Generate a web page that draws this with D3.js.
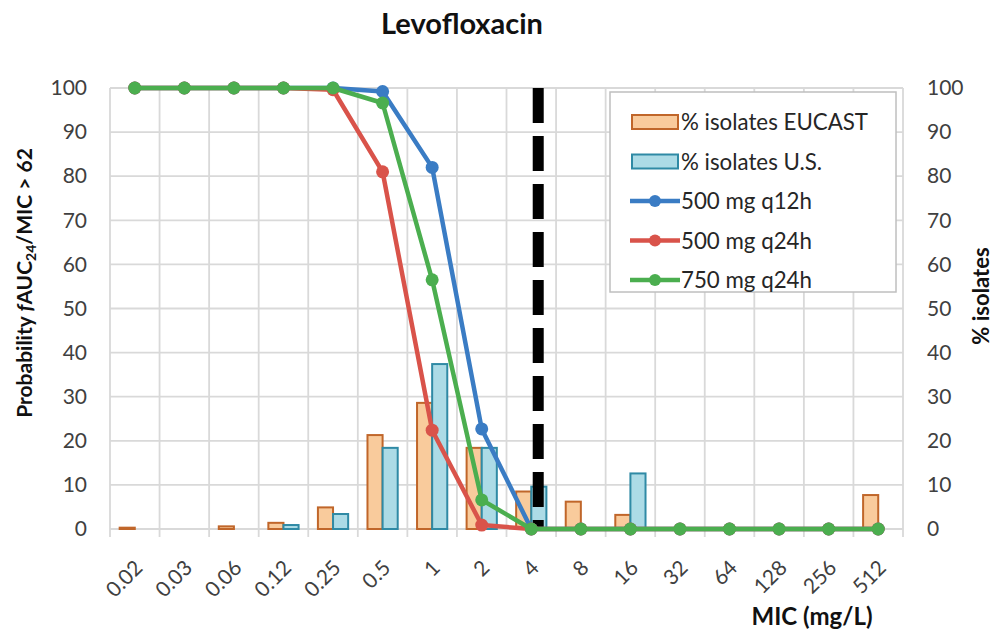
<!DOCTYPE html>
<html>
<head>
<meta charset="utf-8">
<script src="https://cdn.jsdelivr.net/npm/d3@7"></script>
<style>
body { margin: 0; background: #fff; }
text { font-family: Lato, "Open Sans", sans-serif; }
</style>
</head>
<body>
<div id="chart-area"></div>
<script>
// MIC categories
var mic = ["0.02", "0.03", "0.06", "0.12", "0.25", "0.5", "1", "2", "4", "8", "16", "32", "64", "128", "256", "512"];

// % isolates (bars, right axis)
var eucast = [0.3, 0, 0.6, 1.4, 4.9, 21.3, 28.6, 18.4, 8.5, 6.2, 3.2, 0, 0, 0, 0, 7.7];
var usIsolates = [0, 0, 0, 0.9, 3.4, 18.4, 37.4, 18.4, 9.6, 0.2, 12.6, 0, 0, 0, 0, 0];

// probability of target attainment (lines, left axis)
var q12h500 = [100, 100, 100, 100, 100, 99.2, 82, 22.7, 0, 0, 0, 0, 0, 0, 0, 0];
var q24h500 = [100, 100, 100, 100, 99.6, 81, 22.4, 0.9, 0, 0, 0, 0, 0, 0, 0, 0];
var q24h750 = [100, 100, 100, 100, 100, 96.6, 56.5, 6.6, 0, 0, 0, 0, 0, 0, 0, 0];

var yTicks = [0, 10, 20, 30, 40, 50, 60, 70, 80, 90, 100];
var breakpoint = "4";

var width = 993;
var height = 636;
var margin = {top: 88, right: 90, bottom: 107, left: 110};
var innerW = width - margin.left - margin.right;
var innerH = height - margin.top - margin.bottom;

var svg = d3.select("#chart-area").append("svg")
    .attr("width", width)
    .attr("height", height)

var g = svg.append("g")
    .attr("transform", "translate(" + margin.left + ", " + margin.top + ")")

var x = d3.scaleBand()
    .domain(mic)
    .range([0, innerW])

var xBars = d3.scaleBand()
    .domain(mic)
    .range([0, innerW])
    .paddingInner(0.39)
    .paddingOuter(0.195)

var sub = d3.scaleBand()
    .domain(["eu", "us"])
    .range([0, xBars.bandwidth()])

var y = d3.scaleLinear()
    .domain([0, 100])
    .range([innerH, 0])

var yRight = d3.scaleLinear()
    .domain([0, 100])
    .range([innerH, 0])

var gridColor = "#d9d9d9";
var tickColor = "#404040";

// horizontal grid
g.append("g").selectAll("line").data(yTicks).enter().append("line")
    .attr("x1", 0)
    .attr("x2", innerW)
    .attr("y1", d => y(d))
    .attr("y2", d => y(d))
    .attr("stroke", gridColor)
    .attr("stroke-width", 1.8)

// vertical grid at category boundaries, with ticks under the axis
var bounds = mic.map(d => x(d)).concat([innerW]);
g.append("g").selectAll("line").data(bounds).enter().append("line")
    .attr("x1", d => d)
    .attr("x2", d => d)
    .attr("y1", 0)
    .attr("y2", innerH + 8)
    .attr("stroke", gridColor)
    .attr("stroke-width", 1.8)

// left axis
var yAxisCall = d3.axisLeft(y).tickValues(yTicks).tickSize(0).tickPadding(23)
var yAxis = g.append("g").call(yAxisCall)
yAxis.select(".domain").remove()
yAxis.selectAll("text")
    .attr("font-size", "21px")
    .attr("fill", tickColor)

// right axis
var yRightCall = d3.axisRight(yRight).tickValues(yTicks).tickSize(0).tickPadding(24)
var yAxisR = g.append("g")
    .attr("transform", "translate(" + innerW + ", 0)")
    .call(yRightCall)
yAxisR.select(".domain").remove()
yAxisR.selectAll("text")
    .attr("font-size", "21px")
    .attr("fill", tickColor)

// x tick labels, rotated
g.append("g").selectAll("text").data(mic).enter().append("text")
    .attr("transform", d => "translate(" + (x(d) + x.bandwidth() / 2 + 4) + ", " + (innerH + 35) + ") rotate(-45)")
    .attr("text-anchor", "end")
    .attr("dy", "0.35em")
    .attr("font-size", "21px")
    .attr("fill", tickColor)
    .text(d => d)

// bars
var barData = [];
mic.forEach((m, i) => {
    barData.push({mic: m, key: "eu", value: eucast[i]})
    barData.push({mic: m, key: "us", value: usIsolates[i]})
})
var barStyle = {
    eu: {fill: "#f9cb9c", stroke: "#c0662a"},
    us: {fill: "#acdbe6", stroke: "#2f8aa5"}
};

g.append("g").selectAll("rect").data(barData.filter(d => d.value > 0)).enter().append("rect")
    .attr("x", d => xBars(d.mic) + sub(d.key))
    .attr("y", d => yRight(d.value))
    .attr("width", sub.bandwidth())
    .attr("height", d => innerH - yRight(d.value))
    .attr("fill", d => barStyle[d.key].fill)
    .attr("stroke", d => barStyle[d.key].stroke)
    .attr("stroke-width", 2)

// breakpoint dashed line
var bpX = x(breakpoint) + x.bandwidth() * 0.64;
g.append("line")
    .attr("x1", bpX)
    .attr("x2", bpX)
    .attr("y1", 0)
    .attr("y2", innerH - 1)
    .attr("stroke", "#000")
    .attr("stroke-width", 11)
    .attr("stroke-dasharray", "35,13")

// lines
var series = [
    {name: "500 mg q12h", values: q12h500, color: "#3a7cc4"},
    {name: "500 mg q24h", values: q24h500, color: "#d9534a"},
    {name: "750 mg q24h", values: q24h750, color: "#4bae4f"}
];

var line = d3.line()
    .x((d, i) => x(mic[i]) + x.bandwidth() / 2)
    .y(d => y(d))

series.forEach(s => {
    g.append("path")
        .datum(s.values)
        .attr("d", line)
        .attr("fill", "none")
        .attr("stroke", s.color)
        .attr("stroke-width", 4.5)
        .attr("stroke-linejoin", "round")

    g.append("g").selectAll("circle").data(s.values).enter().append("circle")
        .attr("cx", (d, i) => x(mic[i]) + x.bandwidth() / 2)
        .attr("cy", d => y(d))
        .attr("r", 6.5)
        .attr("fill", s.color)
})

// Legend
var legend = svg.append("g").attr("transform", "translate(610, 92)")
legend.append("rect")
    .attr("width", 286)
    .attr("height", 200)
    .attr("fill", "#fff")
    .attr("stroke", "#bfbfbf")
    .attr("stroke-width", 1.5)

var legendItems = [
    {label: "% isolates EUCAST", type: "bar", style: barStyle.eu},
    {label: "% isolates U.S.", type: "bar", style: barStyle.us}
].concat(series.map(s => ({label: s.name, type: "line", color: s.color})))

legendItems.forEach((d, i) => {
    var row = legend.append("g").attr("transform", "translate(0, " + (30 + i * 39.5) + ")")
    if (d.type == "bar") {
        row.append("rect")
            .attr("x", 22)
            .attr("y", -7)
            .attr("width", 46)
            .attr("height", 14)
            .attr("fill", d.style.fill)
            .attr("stroke", d.style.stroke)
            .attr("stroke-width", 2)
    } else {
        row.append("line")
            .attr("x1", 20)
            .attr("x2", 70)
            .attr("stroke", d.color)
            .attr("stroke-width", 4.5)
        row.append("circle")
            .attr("cx", 45)
            .attr("r", 6)
            .attr("fill", d.color)
    }
    row.append("text")
        .attr("x", 71)
        .attr("dy", "0.36em")
        .attr("font-size", "22.3px")
        .attr("fill", "#262626")
        .text(d.label)
})

// Title
svg.append("text")
    .attr("x", 462)
    .attr("y", 34)
    .attr("text-anchor", "middle")
    .attr("font-size", "29px")
    .attr("font-weight", "bold")
    .attr("fill", "#111")
    .text("Levofloxacin")

// X Label
svg.append("text")
    .attr("x", 812)
    .attr("y", 625)
    .attr("text-anchor", "middle")
    .attr("font-size", "24px")
    .attr("font-weight", "bold")
    .attr("fill", "#111")
    .text("MIC (mg/L)")

// Y Label (left)
var yLabel = svg.append("text")
    .attr("transform", "translate(32, 283) rotate(-90)")
    .attr("text-anchor", "middle")
    .attr("font-size", "21px")
    .attr("font-weight", "bold")
    .attr("fill", "#111")
yLabel.append("tspan").text("Probability ")
yLabel.append("tspan").attr("font-style", "italic").text("f")
yLabel.append("tspan").text("AUC")
yLabel.append("tspan").attr("font-size", "14px").attr("dy", "4").text("24")
yLabel.append("tspan").attr("dy", "-4").text("/MIC > 62")

// Y Label (right)
svg.append("text")
    .attr("transform", "translate(989, 296) rotate(-90)")
    .attr("text-anchor", "middle")
    .attr("font-size", "22px")
    .attr("font-weight", "bold")
    .attr("fill", "#111")
    .text("% isolates")
</script>
</body>
</html>
